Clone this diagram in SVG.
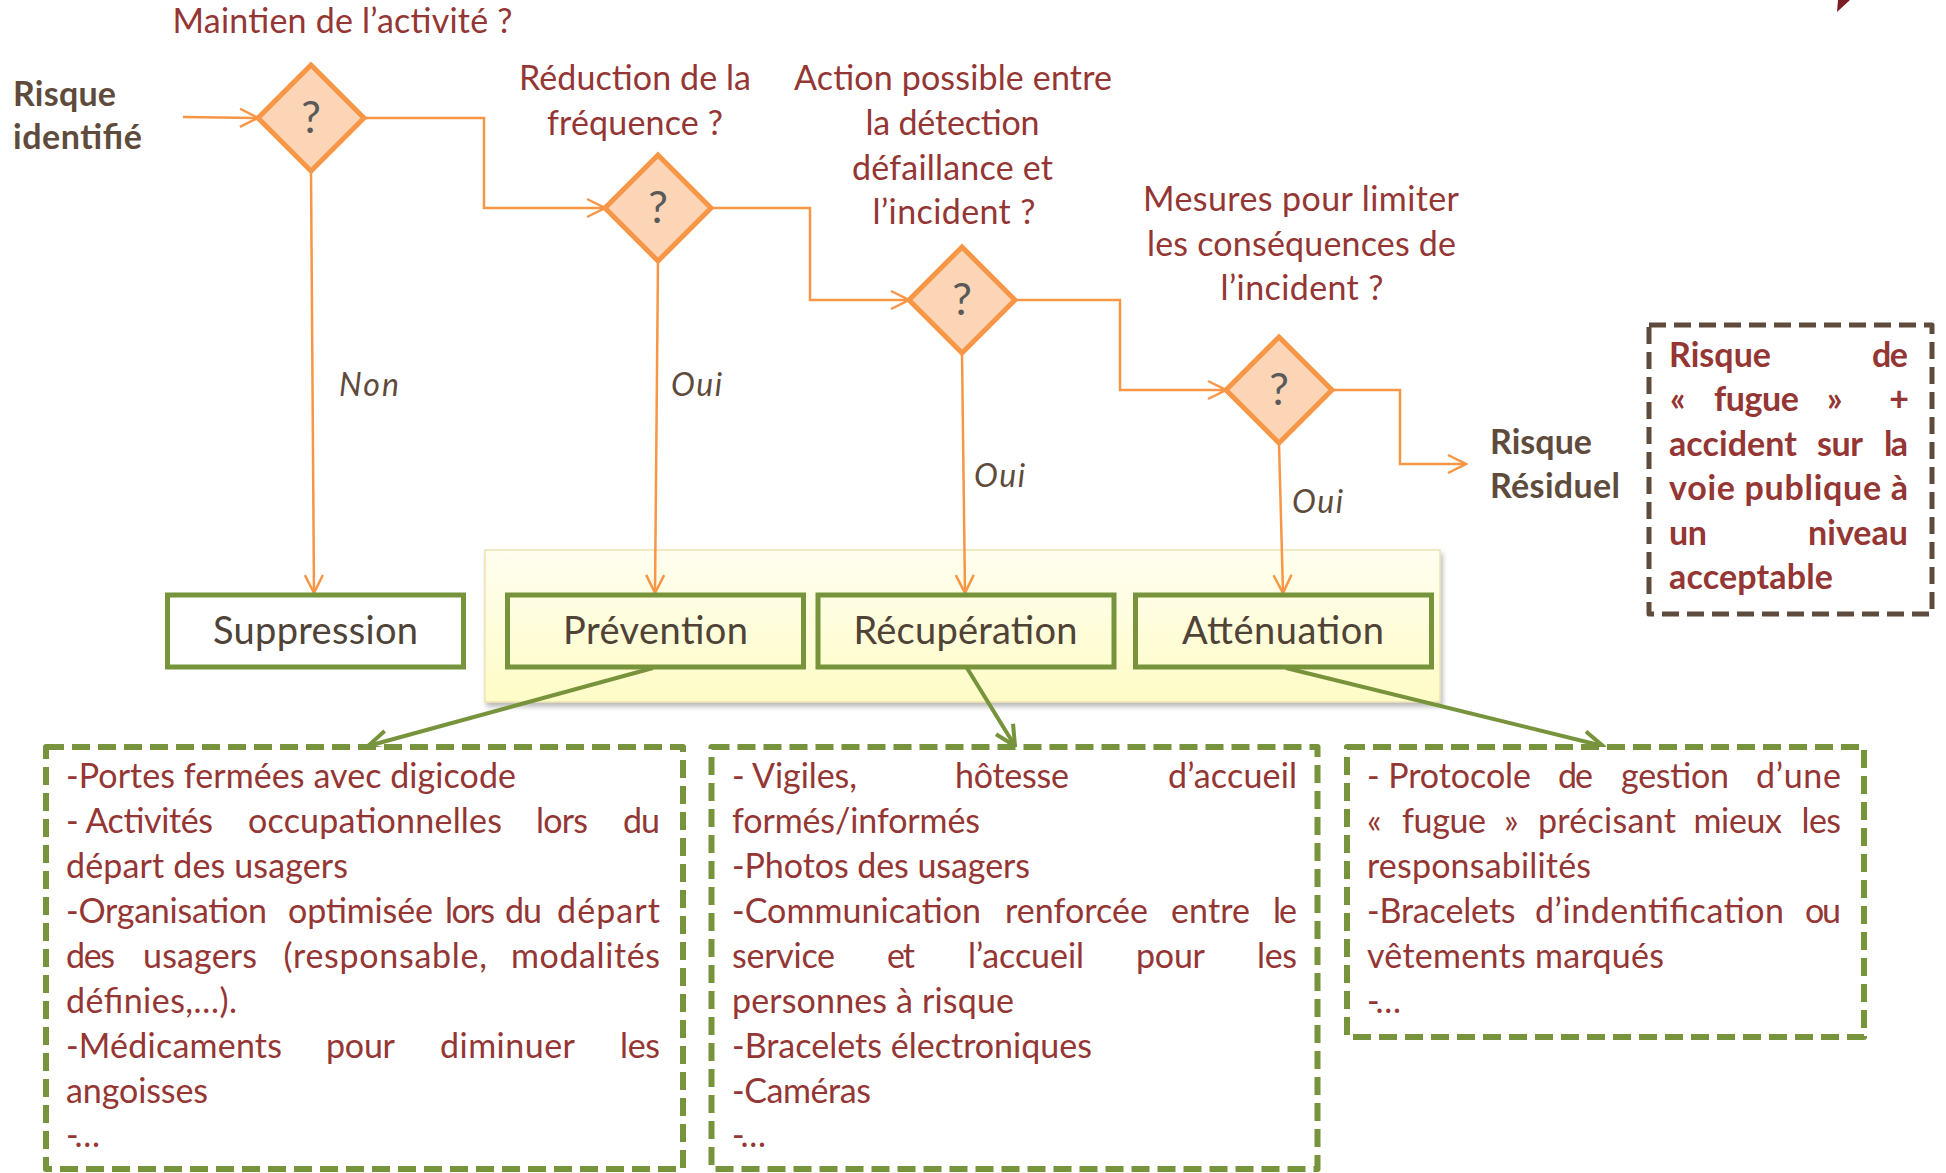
<svg xmlns="http://www.w3.org/2000/svg" width="1946" height="1173" viewBox="0 0 1946 1173">
  <defs>
    <style>
      .q { font-family: Lato, "Open Sans", "Liberation Sans", sans-serif; font-size: 34px; fill: #943634; }
      .lbl { font-family: Lato, "Open Sans", "Liberation Sans", sans-serif; font-size: 34px; font-weight: bold; fill: #5E4B3C; }
      .res { font-family: Lato, "Open Sans", "Liberation Sans", sans-serif; font-size: 34px; font-weight: bold; fill: #943634; }
      .yn { font-family: Lato, "Open Sans", "Liberation Sans", sans-serif; font-size: 32px; font-style: italic; fill: #5E4B3C; }
      .mark { font-family: Lato, "Open Sans", "Liberation Sans", sans-serif; font-size: 44px; fill: #595959; text-anchor: middle; }
      .nl { font-family: Lato, "Open Sans", "Liberation Sans", sans-serif; font-size: 38px; fill: #4F4236; text-anchor: middle; }
      .b { font-family: Lato, "Open Sans", "Liberation Sans", sans-serif; font-size: 34px; fill: #943634; }
      .diam { fill: #FBD5B5; stroke: #F79646; stroke-width: 5; stroke-linejoin: miter; }
      .node { fill: #FFFFFF; stroke: #77933C; stroke-width: 5; }
      .node-y { fill: none; stroke: #77933C; stroke-width: 5; }
      .flow { fill: none; stroke: #F79646; stroke-width: 2.5; }
      .link { fill: none; stroke: #77933C; stroke-width: 4; }
      .gbox { fill: #FFFFFF; stroke: #77933C; stroke-width: 6; stroke-dasharray: 18 8; stroke-linejoin: round; }
      .bbox { fill: #FFFFFF; stroke: #5E4B3C; stroke-width: 5; stroke-dasharray: 17 8; stroke-linejoin: round; }
      .mid { text-anchor: middle; }
      .end { text-anchor: end; }
    </style>
    <marker id="arrOrange" markerUnits="userSpaceOnUse" viewBox="0 0 22 22" markerWidth="22" markerHeight="22" refX="20" refY="11" orient="auto">
      <path d="M2,2 L20,11 L2,20" fill="none" stroke="#F79646" stroke-width="2.5"/>
    </marker>
    <marker id="arrGreen" markerUnits="userSpaceOnUse" viewBox="0 0 26 26" markerWidth="26" markerHeight="26" refX="23" refY="13" orient="auto">
      <path d="M3,3 L23,13 L3,23" fill="none" stroke="#77933C" stroke-width="4"/>
    </marker>
    <linearGradient id="panelFill" x1="0" y1="0" x2="0" y2="1">
      <stop offset="0" stop-color="#FFFEF0"/>
      <stop offset="1" stop-color="#FEFCC6"/>
    </linearGradient>
    <filter id="panelShadow" x="-5%" y="-10%" width="110%" height="125%">
      <feDropShadow dx="2" dy="4" stdDeviation="2.5" flood-color="#7F7F7F" flood-opacity="0.55"/>
    </filter>
  </defs>

  <rect width="1946" height="1173" fill="#FFFFFF"/>

  <!-- corner mark -->
  <polygon points="1838,0 1850,0 1837,12" fill="#7A1E24"/>

  <!-- shared background behind the three action boxes -->
  <rect id="action-panel" x="485" y="550" width="955" height="152" fill="url(#panelFill)" stroke="#F1E2B2" stroke-width="1.5" filter="url(#panelShadow)"/>

  <!-- question labels -->
  <g id="questions">
    <text class="q mid" x="342.5" y="33" textLength="340">Maintien de l’activité ?</text>
    <text class="q mid" x="635" y="90" textLength="232">Réduction de la</text>
    <text class="q mid" x="635" y="135" textLength="176">fréquence ?</text>
    <text class="q mid" x="953" y="90" textLength="318">Action possible entre</text>
    <text class="q mid" x="952.5" y="135" textLength="174">la détection</text>
    <text class="q mid" x="952.5" y="180" textLength="201">défaillance et</text>
    <text class="q mid" x="954" y="224" textLength="163">l’incident ?</text>
    <text class="q mid" x="1301" y="211" textLength="316">Mesures pour limiter</text>
    <text class="q mid" x="1301.5" y="256" textLength="309">les conséquences de</text>
    <text class="q mid" x="1302" y="300" textLength="163">l’incident ?</text>
  </g>

  <g id="start">
    <text class="lbl" x="13" y="106" textLength="103">Risque</text>
    <text class="lbl" x="13" y="149" textLength="129">identifié</text>
  </g>

  <g id="residual">
    <text class="lbl" x="1490" y="454" textLength="102">Risque</text>
    <text class="lbl" x="1490" y="498" textLength="130">Résiduel</text>
  </g>

  <!-- connectors -->
  <g id="connectors">
    <path class="flow" d="M183,117 L258,118" marker-end="url(#arrOrange)"/>
    <path class="flow" d="M364,118 H484 V208 H605" marker-end="url(#arrOrange)"/>
    <path class="flow" d="M711,208 H810 V300 H909" marker-end="url(#arrOrange)"/>
    <path class="flow" d="M1015,300 H1120 V390 H1226" marker-end="url(#arrOrange)"/>
    <path class="flow" d="M1332,390 H1400 V464 H1466" marker-end="url(#arrOrange)"/>
    <path class="flow" d="M311,171 L314,593" marker-end="url(#arrOrange)"/>
    <path class="flow" d="M658,261 L655,593" marker-end="url(#arrOrange)"/>
    <path class="flow" d="M962,353 L965,593" marker-end="url(#arrOrange)"/>
    <path class="flow" d="M1279,443 L1283,593" marker-end="url(#arrOrange)"/>
    <path class="link" d="M653,668 L368,746" marker-end="url(#arrGreen)"/>
    <path class="link" d="M967,668 L1015,746" marker-end="url(#arrGreen)"/>
    <path class="link" d="M1286,668 L1603,746" marker-end="url(#arrGreen)"/>
    <text class="yn" x="339" y="396" textLength="60">Non</text>
    <text class="yn" x="671" y="396" textLength="51">Oui</text>
    <text class="yn" x="974" y="487" textLength="51">Oui</text>
    <text class="yn" x="1292" y="513" textLength="51">Oui</text>
  </g>

  <!-- decision diamonds -->
  <g id="decision-maintien">
    <polygon class="diam" points="311,65 364,118 311,171 258,118"/>
    <text class="mark" x="311" y="133">?</text>
  </g>
  <g id="decision-reduction">
    <polygon class="diam" points="658,155 711,208 658,261 605,208"/>
    <text class="mark" x="658" y="223">?</text>
  </g>
  <g id="decision-action">
    <polygon class="diam" points="962,247 1015,300 962,353 909,300"/>
    <text class="mark" x="962" y="315">?</text>
  </g>
  <g id="decision-mesures">
    <polygon class="diam" points="1279,337 1332,390 1279,443 1226,390"/>
    <text class="mark" x="1279" y="405">?</text>
  </g>

  <!-- outcome boxes -->
  <g id="suppression">
    <rect class="node" x="167.5" y="595" width="296" height="72"/>
    <text class="nl" x="315.5" y="644" textLength="205">Suppression</text>
  </g>
  <g id="prevention">
    <rect class="node-y" x="507.5" y="595" width="296" height="72"/>
    <text class="nl" x="655.5" y="644" textLength="185">Prévention</text>
  </g>
  <g id="recuperation">
    <rect class="node-y" x="818" y="595" width="296" height="72"/>
    <text class="nl" x="965.5" y="644" textLength="224">Récupération</text>
  </g>
  <g id="attenuation">
    <rect class="node-y" x="1135.5" y="595" width="296" height="72"/>
    <text class="nl" x="1283" y="644" textLength="202">Atténuation</text>
  </g>

  <!-- residual risk statement -->
  <g id="residual-risk">
    <rect class="bbox" x="1649" y="325" width="283" height="289"/>
    <text class="res" x="1669" y="367" textLength="102">Risque</text>
    <text class="res end" x="1908" y="367" textLength="36">de</text>
    <text class="res" x="1670" y="411" textLength="15">«</text>
    <text class="res" x="1714" y="411" textLength="85">fugue</text>
    <text class="res" x="1827" y="411" textLength="15">»</text>
    <text class="res end" x="1909" y="411" textLength="16">+</text>
    <text class="res" x="1669" y="456" textLength="128">accident</text>
    <text class="res" x="1817" y="456" textLength="46">sur</text>
    <text class="res end" x="1908" y="456" textLength="24">la</text>
    <text class="res" x="1669" y="500" textLength="239">voie publique à</text>
    <text class="res" x="1669" y="545" textLength="38">un</text>
    <text class="res end" x="1908" y="545" textLength="100">niveau</text>
    <text class="res" x="1669" y="589" textLength="164">acceptable</text>
  </g>

  <!-- measures: prevention -->
  <g id="measures-prevention">
    <rect class="gbox" x="46" y="747" width="637" height="422"/>
    <text class="b" x="66" y="788" textLength="450">-Portes fermées avec digicode</text>
    <text class="b" x="66" y="833" textLength="147">- Activités</text>
    <text class="b" x="248" y="833" textLength="254">occupationnelles</text>
    <text class="b" x="536" y="833" textLength="52">lors</text>
    <text class="b end" x="660" y="833" textLength="37">du</text>
    <text class="b" x="66" y="878" textLength="282">départ des usagers</text>
    <text class="b" x="66" y="923" textLength="201">-Organisation</text>
    <text class="b" x="288" y="923" textLength="145">optimisée</text>
    <text class="b" x="445" y="923" textLength="50">lors</text>
    <text class="b" x="505" y="923" textLength="37">du</text>
    <text class="b end" x="660" y="923" textLength="103">départ</text>
    <text class="b" x="66" y="968" textLength="49">des</text>
    <text class="b" x="143" y="968" textLength="114">usagers</text>
    <text class="b" x="283.5" y="968" textLength="203.5">(responsable,</text>
    <text class="b end" x="660" y="968" textLength="149">modalités</text>
    <text class="b" x="66" y="1013" textLength="171">définies,…).</text>
    <text class="b" x="66" y="1058" textLength="216">-Médicaments</text>
    <text class="b" x="326" y="1058" textLength="69">pour</text>
    <text class="b" x="440" y="1058" textLength="135">diminuer</text>
    <text class="b end" x="660" y="1058" textLength="40">les</text>
    <text class="b" x="66" y="1103" textLength="142">angoisses</text>
    <text class="b" x="66" y="1147" textLength="34">-…</text>
  </g>

  <!-- measures: recovery -->
  <g id="measures-recuperation">
    <rect class="gbox" x="711.5" y="747" width="606" height="422"/>
    <text class="b" x="732" y="788" textLength="125">- Vigiles,</text>
    <text class="b" x="955" y="788" textLength="114">hôtesse</text>
    <text class="b end" x="1297" y="788" textLength="129">d’accueil</text>
    <text class="b" x="732" y="833" textLength="248">formés/informés</text>
    <text class="b" x="732" y="878" textLength="298">-Photos des usagers</text>
    <text class="b" x="732" y="923" textLength="249">-Communication</text>
    <text class="b" x="1005" y="923" textLength="143">renforcée</text>
    <text class="b" x="1171" y="923" textLength="79">entre</text>
    <text class="b end" x="1297" y="923" textLength="24">le</text>
    <text class="b" x="732" y="968" textLength="103">service</text>
    <text class="b" x="887" y="968" textLength="28">et</text>
    <text class="b" x="968" y="968" textLength="116">l’accueil</text>
    <text class="b" x="1136" y="968" textLength="69">pour</text>
    <text class="b end" x="1297" y="968" textLength="40">les</text>
    <text class="b" x="732" y="1013" textLength="282">personnes à risque</text>
    <text class="b" x="732" y="1058" textLength="360">-Bracelets électroniques</text>
    <text class="b" x="732" y="1103" textLength="139">-Caméras</text>
    <text class="b" x="732" y="1147" textLength="34">-…</text>
  </g>

  <!-- measures: mitigation -->
  <g id="measures-attenuation">
    <rect class="gbox" x="1347" y="747" width="517" height="290"/>
    <text class="b" x="1367" y="788" textLength="164">- Protocole</text>
    <text class="b" x="1558" y="788" textLength="35">de</text>
    <text class="b" x="1621" y="788" textLength="108">gestion</text>
    <text class="b end" x="1841" y="788" textLength="85">d’une</text>
    <text class="b" x="1367" y="833" textLength="16">«</text>
    <text class="b" x="1402" y="833" textLength="84">fugue</text>
    <text class="b" x="1504" y="833" textLength="15">»</text>
    <text class="b" x="1538" y="833" textLength="138">précisant</text>
    <text class="b" x="1693.5" y="833" textLength="88.5">mieux</text>
    <text class="b end" x="1841" y="833" textLength="39.5">les</text>
    <text class="b" x="1367" y="878" textLength="224">responsabilités</text>
    <text class="b" x="1367" y="923" textLength="148.5">-Bracelets</text>
    <text class="b" x="1535" y="923" textLength="249">d’indentification</text>
    <text class="b end" x="1841" y="923" textLength="36">ou</text>
    <text class="b" x="1367" y="968" textLength="297">vêtements marqués</text>
    <text class="b" x="1367" y="1013" textLength="34">-…</text>
  </g>
</svg>
